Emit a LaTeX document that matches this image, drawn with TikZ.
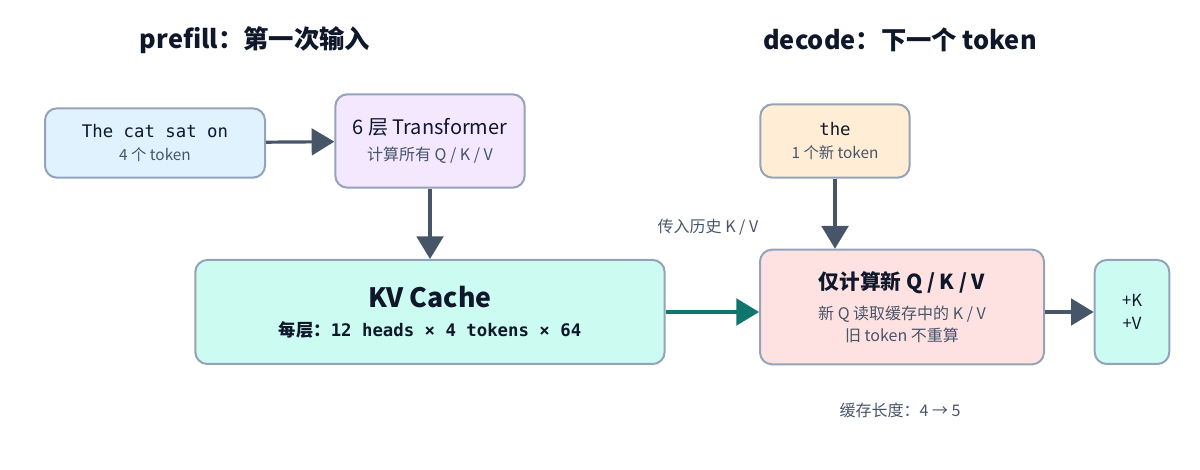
\documentclass[tikz,border=0pt]{standalone}
\usepackage{fontspec}
\setmainfont{Noto Sans CJK SC}
\newfontfamily\monof{DejaVu Sans Mono}
\usetikzlibrary{arrows.meta}
\definecolor{bd}{HTML}{94A3B8}
\definecolor{ar}{HTML}{475569}
\definecolor{tl}{HTML}{0F766E}
\definecolor{tx}{HTML}{0F172A}
\definecolor{sub}{HTML}{475569}
\definecolor{fblue}{HTML}{E0F2FE}
\definecolor{fviol}{HTML}{F3E8FF}
\definecolor{fmint}{HTML}{CCFBF1}
\definecolor{forg}{HTML}{FFEDD5}
\definecolor{fred}{HTML}{FEE2E2}
\begin{document}
\begin{tikzpicture}[x=0.75pt,y=-0.75pt,
 box/.style={draw=bd,line width=1.5pt,rounded corners=9pt,inner sep=0pt,text=tx,align=center},
 arr/.style={draw=ar,line width=2.4pt,-{Triangle[length=17pt,width=20pt]}},
 lbl/.style={text=sub,font=\fontsize{12}{14}\selectfont}]
\useasboundingbox (0,0) rectangle (1200,470);
\node[font=\bfseries\fontsize{19}{22}\selectfont,text=tx] (t1) at (255,40) {prefill：第一次输入};
\node[font=\bfseries\fontsize{19}{22}\selectfont,text=tx] (t2) at (900,40) {decode：下一个 token};
\node[box,fill=fblue,minimum width=165pt,minimum height=52pt] (in) at (155,143)
 {{\monof\fontsize{13}{16}\selectfont The cat sat on}\\[5pt]{\color{sub}\fontsize{11.5}{14}\selectfont 4 个 token}};
\node[box,fill=fviol,minimum width=142pt,minimum height=70pt] (tf) at (430,141)
 {{\fontsize{15}{18}\selectfont 6 层 Transformer}\\[7pt]{\color{sub}\fontsize{12}{14}\selectfont 计算所有 Q / K / V}};
\node[box,fill=fmint,minimum width=352pt,minimum height=78pt] (kv) at (430,312)
 {{\bfseries\fontsize{20}{22}\selectfont KV Cache}\\[10pt]{\bfseries\fontsize{13}{15}\selectfont 每层：{\monof 12 heads × 4 tokens × 64}}};
\node[box,fill=forg,minimum width=112pt,minimum height=55pt] (th) at (835,141)
 {{\monof\fontsize{13}{16}\selectfont the}\\[5pt]{\color{sub}\fontsize{11.5}{14}\selectfont 1 个新 token}};
\node[box,fill=fred,minimum width=213pt,minimum height=86pt] (dc) at (902,307)
 {{\bfseries\fontsize{15.5}{18}\selectfont 仅计算新 Q / K / V}\\[8pt]{\color{sub}\fontsize{12}{14}\selectfont 新 Q 读取缓存中的 K / V}\\[3pt]{\color{sub}\fontsize{12}{14}\selectfont 旧 token 不重算}};
\node[box,fill=fmint,minimum width=56pt,minimum height=78pt] (pk) at (1132,312)
 {{\fontsize{12.5}{14}\selectfont +K}\\[5pt]{\fontsize{12.5}{14}\selectfont +V}};
\draw[arr] (in) -- (tf);
\draw[arr] (tf) -- (kv);
\draw[arr] (th.south) -- (th.south|-dc.north);
\draw[arr] (dc.east|-pk) -- (pk);
\draw[arr,draw=tl] (kv.east) -- (kv.east-|dc.west);
\node[lbl] (l1) at (708,227) {传入历史 K / V};
\node[lbl] (l2) at (900,410) {缓存长度：4 → 5};
\end{tikzpicture}
\end{document}
